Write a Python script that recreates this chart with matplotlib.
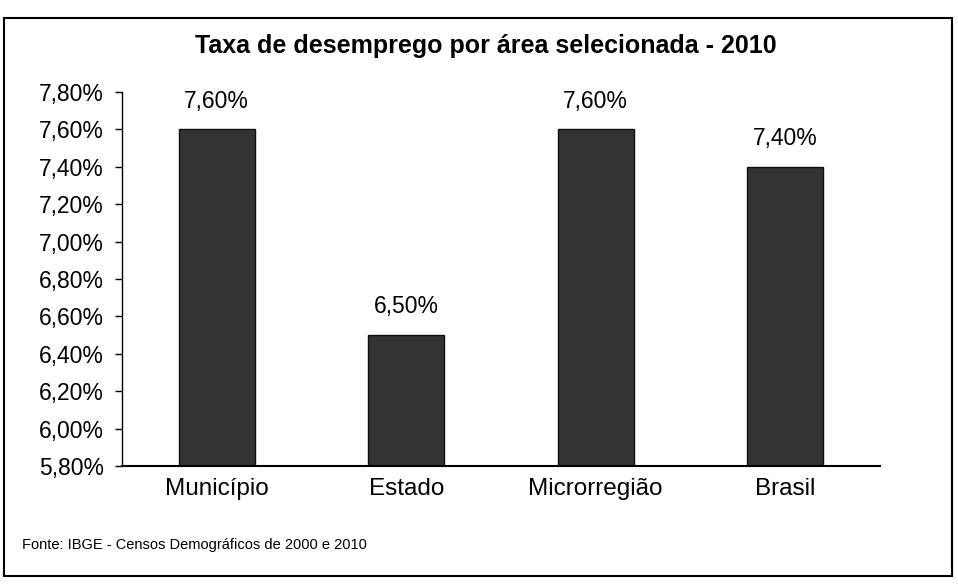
import matplotlib.pyplot as plt
from matplotlib.patches import Rectangle

# dados
areas = ['Município', 'Estado', 'Microrregião', 'Brasil']
taxa = [7.60, 6.50, 7.60, 7.40]
yticks = [5.8, 6.0, 6.2, 6.4, 6.6, 6.8, 7.0, 7.2, 7.4, 7.6, 7.8]

titulo = 'Taxa de desemprego por área selecionada - 2010'
fonte = 'Fonte: IBGE - Censos Demográficos de 2000 e 2010'

plt.rcParams['font.family'] = ['Liberation Sans', 'DejaVu Sans']

fig = plt.figure(figsize=(9.58, 5.88), dpi=100)
ax = fig.add_axes([0.1273, 0.2075, 0.7913, 0.636])

x = range(len(areas))
ax.bar(x, taxa, width=0.4, bottom=0, color='#333333', edgecolor='#111111', linewidth=1)

for xi, v in zip(x, taxa):
    ax.text(xi, v + 0.09, f'{v:.2f}%'.replace('.', ','), ha='center', va='bottom', fontsize=16.5)

ax.set_ylim(5.8, 7.8)
ax.set_xlim(-0.5, 3.5)
ax.set_yticks(yticks)
ax.set_yticklabels([f'{t:.2f}%'.replace('.', ',') for t in yticks], fontsize=16.5)
ax.set_xticks(list(x))
ax.set_xticklabels(areas, fontsize=17.5)
ax.tick_params(axis='x', length=0, pad=9)
ax.tick_params(axis='y', length=5, width=1, direction='out', pad=8)

for s in ['top', 'right']:
    ax.spines[s].set_visible(False)
ax.spines['left'].set_linewidth(1)
ax.spines['bottom'].set_linewidth(1.5)

fig.text(0.507, 0.922, titulo, ha='center', va='center', fontsize=18, fontweight='bold')
fig.text(0.023, 0.073, fonte, ha='left', va='center', fontsize=10.5)

# moldura
fig.patches.append(Rectangle((0.004, 0.02), 0.99, 0.95, transform=fig.transFigure,
                             fill=False, edgecolor='black', linewidth=1.5))

fig.savefig('out.png', dpi=100)
